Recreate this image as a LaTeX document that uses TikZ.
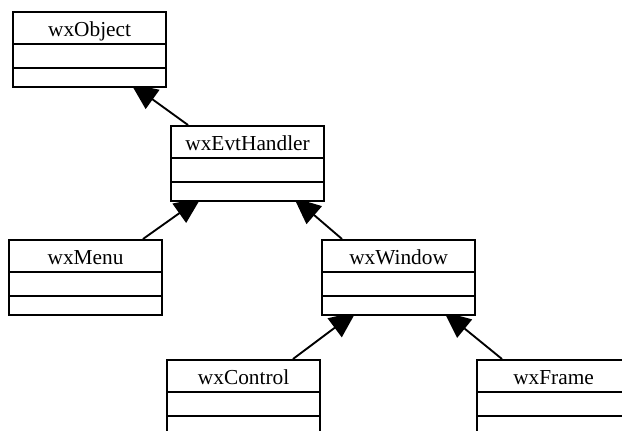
\documentclass[tikz,border=0pt]{standalone}
\usepackage{fontspec}
\setmainfont{Liberation Serif}
\usetikzlibrary{shapes.multipart,arrows.meta,calc,backgrounds}

\tikzset{every picture/.style={line width=1.4pt}}
% name row, empty attribute row, empty method row
\newcommand{\clsrows}[1]{\rule[-4.6pt]{0pt}{22.6pt}#1\nodepart{two}\rule{0pt}{16.6pt}\nodepart{three}\rule{0pt}{12.8pt}}

\begin{document}
\begin{tikzpicture}[x=0.75pt,y=0.75pt,yscale=-1,xscale=1,
  classbox/.style={draw,fill=white,rectangle split,rectangle split parts=3,anchor=north west,inner sep=0pt,text width=115pt,align=center,font=\fontsize{16}{18}\selectfont},
  inherit/.style={line width=1.4pt,-{Triangle[length=20pt,width=17.5pt]}}]
\useasboundingbox (0,0) rectangle (622,430);
\clip (0,0) rectangle (622,430);

% Class Nodes
\node (obj) [classbox] at (12,11) {\clsrows{wxObject}};
\node (evt) [classbox] at (170,125) {\clsrows{wxEvtHandler}};
\node (menu) [classbox] at (8,239) {\clsrows{wxMenu}};
\node (win) [classbox] at (321,239) {\clsrows{wxWindow}};
\node (ctrl) [classbox] at (166,359) {\clsrows{wxControl}};
\node (frame) [classbox] at (476,359) {\clsrows{wxFrame}};

%Straight Lines, tips hidden under the parent box
\begin{scope}[on background layer]
\draw [inherit] ($(evt.north west)+(18,0)$) -- ($(obj.south west)+(119,-4)$);
\draw [inherit] ($(menu.north west)+(135,0)$) -- ($(evt.south west)+(31,-4)$);
\draw [inherit] ($(win.north west)+(21,0)$) -- ($(evt.south west)+(124,-4)$);
\draw [inherit] ($(ctrl.north west)+(127,0)$) -- ($(win.south west)+(35,-4)$);
\draw [inherit] ($(frame.north west)+(26,0)$) -- ($(win.south west)+(123,-4)$);
\end{scope}

\end{tikzpicture}
\end{document}
